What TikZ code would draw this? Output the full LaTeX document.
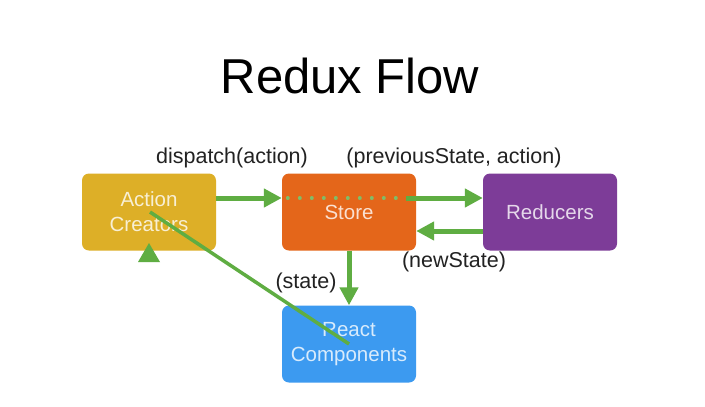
\documentclass[tikz,border=0pt]{standalone}
\usepackage{fontspec}
\setmainfont{Liberation Sans}
\usetikzlibrary{arrows.meta}
\definecolor{gflow}{HTML}{5FAD42}
\definecolor{cact}{HTML}{DDAF27}
\definecolor{cstore}{HTML}{E4661A}
\definecolor{cred}{HTML}{7D3C98}
\definecolor{creact}{HTML}{3C9AF0}
\definecolor{labc}{HTML}{222222}
\tikzset{
  box/.style={rounded corners=7pt, minimum width=134pt, minimum height=77pt, inner sep=0pt, align=center, font=\fontsize{20.5}{25}\selectfont},
  garrow/.style={draw=gflow, line width=5pt, -{Triangle[length=18pt,width=18pt]}},
  gdots/.style={draw=gflow!80!white, line width=4pt, line cap=round, dash pattern=on 0pt off 12pt},
  lab/.style={text=labc, font=\fontsize{21.5}{25}\selectfont, inner sep=0pt}
}
\begin{document}
\begin{tikzpicture}[x=1pt,y=-1pt]
\path[fill=white,use as bounding box] (0,0) rectangle (705,407);
\node[font=\fontsize{49}{55}\selectfont, text=black] (title) at (350,76) {Redux Flow};
\node[box, fill=cact, text=white!80!cact] (action) at (149,212) {\raisebox{-2pt}{\parbox{130pt}{\centering Action\\Creators}}};
\node[box, fill=cstore, text=white!80!cstore] (store) at (349,212) {\raisebox{-2pt}{Store}};
\node[box, fill=cred, text=white!80!cred] (reducers) at (550,212) {\raisebox{-2pt}{Reducers}};
\node[box, fill=creact, text=white!80!creact] (react) at (349,344) {React\\Components};
% dispatch
\draw[garrow] ([yshift=14pt]action.east) -- ([yshift=14pt]store.west);
\draw[gdots] ([xshift=6pt,yshift=14pt]store.west) -- ([xshift=-12pt,yshift=14pt]store.east);
\draw[garrow] ([xshift=-10pt,yshift=14pt]store.east) -- ([yshift=14pt]reducers.west);
% newState
\draw[garrow] ([yshift=-19pt]reducers.west) -- ([yshift=-19pt]store.east);
% state
\draw[garrow] (store.south) -- (react.north);
% diagonal
\draw[draw=gflow, line width=3.5pt] ([xshift=1pt]action.center) -- (react.center);
\coordinate (tip) at (149,243);
\fill[gflow] (tip) -- ++(11,19) -- ++(-22,0) -- cycle;
% labels
\node[lab] (l1) at (232,158) {dispatch(action)};
\node[lab] (l2) at (454,158) {(previousState, action)};
\node[lab] (l3) at (454,262) {(newState)};
\node[lab] (l4) at (306,283) {(state)};
\end{tikzpicture}
\end{document}
